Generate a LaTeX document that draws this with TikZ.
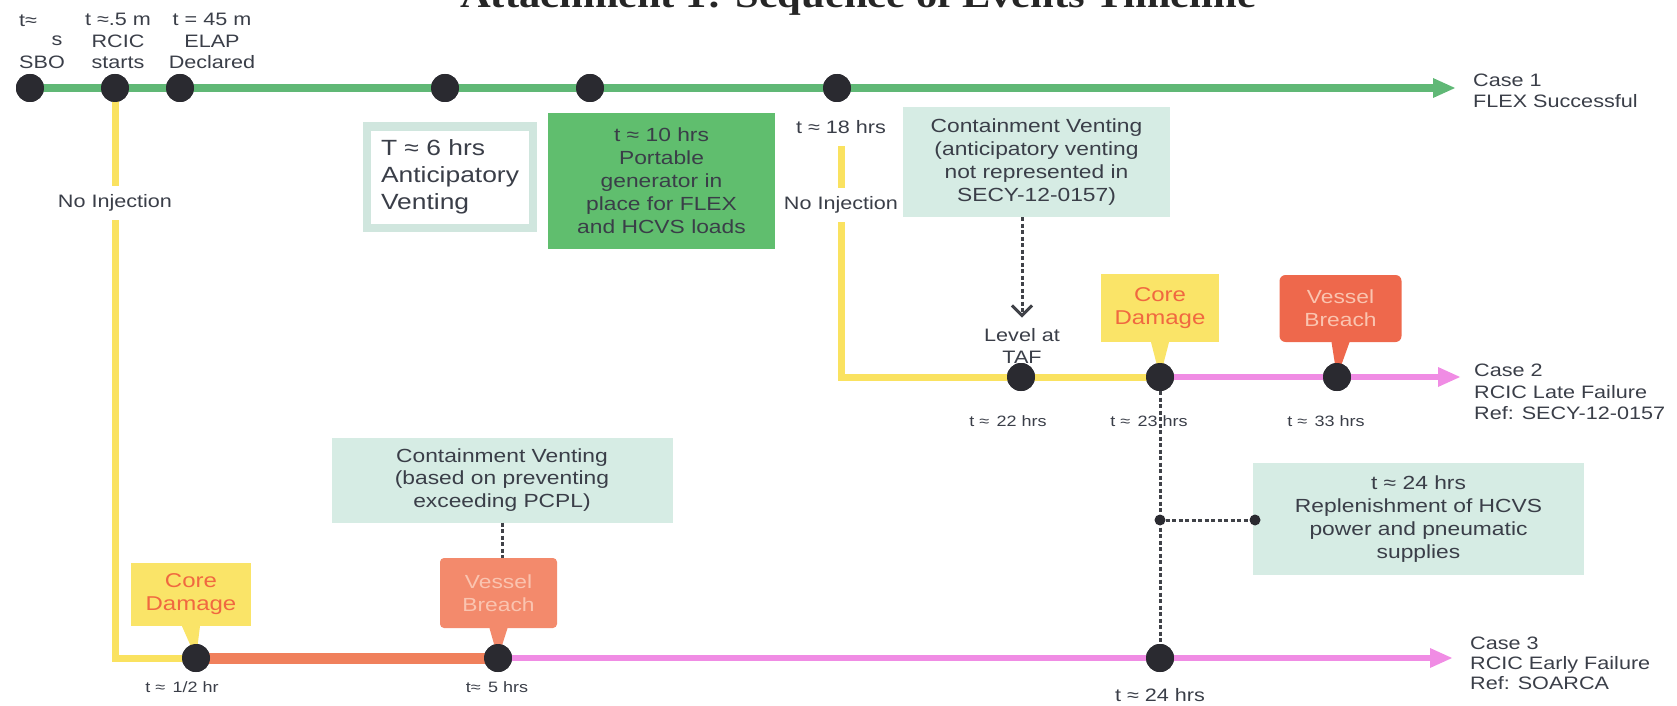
\documentclass[tikz,border=0pt]{standalone}
\usepackage{fontspec}
\setmainfont{Liberation Sans}[FakeStretch=1.2]
\newfontfamily\titlefont{Liberation Serif}[FakeStretch=1.15]
\usetikzlibrary{arrows.meta}
\definecolor{greenln}{RGB}{96,184,118}
\definecolor{greenbox}{RGB}{96,190,110}
\definecolor{pale}{RGB}{214,236,228}
\definecolor{avborder}{RGB}{208,230,222}
\definecolor{yel}{RGB}{250,226,96}
\definecolor{cdfill}{RGB}{250,228,104}
\definecolor{pinkln}{RGB}{240,140,228}
\definecolor{orangeln}{RGB}{240,128,92}
\definecolor{vbtwo}{RGB}{238,104,76}
\definecolor{vbthree}{RGB}{243,138,108}
\definecolor{cdtext}{RGB}{240,104,64}
\definecolor{vbtext}{RGB}{250,196,176}
\definecolor{txt}{RGB}{58,62,72}
\definecolor{dotc}{RGB}{42,42,48}
\definecolor{dashc}{RGB}{64,66,72}
\newcommand{\fsz}[2]{\fontsize{#1}{#2}\selectfont}
\begin{document}
\begin{tikzpicture}[x=1pt,y=-1pt,
  dotnode/.style={circle,fill=dotc,inner sep=0pt,minimum size=28pt},
  smalldot/.style={circle,fill=dotc,inner sep=0pt,minimum size=11pt},
  lbl/.style={text=txt,inner sep=1pt,font=\fsz{18}{21.5},align=center},
  caselbl/.style={text=txt,inner sep=0pt,font=\fsz{18}{21.5},align=left,anchor=west},
  tlbl/.style={text=txt,inner sep=1pt,font=\fsz{15}{18}},
  pbox/.style={fill=pale,inner sep=0pt,align=center,text=txt,font=\fsz{19}{23}},
  greenline/.style={draw=greenln,line width=7.5pt},
  yelline/.style={draw=yel,line width=7pt},
  pinkline/.style={draw=pinkln,line width=6pt},
  orangeline/.style={draw=orangeln,line width=11pt},
  dashln/.style={draw=dashc,line width=3pt,dash pattern=on 4pt off 2.5pt},
]
\useasboundingbox (0,0) rectangle (1677,706);
\clip (0,0) rectangle (1677,706);

% title (cut off at the top, as in the reference)
\node[anchor=base,text=black!85,font=\titlefont\bfseries\fsz{37}{40}] (title) at (858,8) {Attachment 1: Sequence of Events Timeline};

% ---------- positions ----------
\coordinate (c1end) at (1455,88);
\coordinate (c2end) at (1460,377);
\coordinate (c3end) at (1452,658);
\coordinate (y18) at (841,146);

\path (30,88) node[dotnode] (c1a) {}
      (115,88) node[dotnode] (c1b) {}
      (180,88) node[dotnode] (c1c) {}
      (445,88) node[dotnode] (c1d) {}
      (590,88) node[dotnode] (c1e) {}
      (837,88) node[dotnode] (c1f) {}
      (1021,377) node[dotnode] (c2a) {}
      (1160,377) node[dotnode] (c2b) {}
      (1337,377) node[dotnode] (c2c) {}
      (196,658) node[dotnode] (c3a) {}
      (498,658) node[dotnode] (c3b) {}
      (1160,658) node[dotnode] (c3c) {};

% ---------- timelines ----------
\draw[yelline] (c1b.center) |- (c3a.center);
\draw[yelline] (y18) |- (c2b.center);
\draw[greenline] (c1a.center) -- ([xshift=-20pt]c1end);
\path[fill=greenln] (c1end) -- ++(-22,-10) -- ++(0,20) -- cycle;
\draw[pinkline] (c2b.center) -- ([xshift=-20pt]c2end);
\path[fill=pinkln] (c2end) -- ++(-22,-10) -- ++(0,20) -- cycle;
\draw[orangeline] (c3a.center) -- (c3b.center);
\draw[pinkline] (c3b.center) -- ([xshift=-20pt]c3end);
\path[fill=pinkln] (c3end) -- ++(-22,-10) -- ++(0,20) -- cycle;

% ---------- boxes ----------
\node[draw=avborder,line width=8pt,fill=white,minimum width=166pt,minimum height=101pt,inner sep=0pt,
      align=left,text=txt,font=\fsz{22}{27}] (av) at (450,177) {T ≈ 6 hrs\\Anticipatory\\Venting};
\node[fill=greenbox,minimum width=227pt,minimum height=135pt,inner sep=0pt,align=center,
      text=txt,font=\fsz{19}{23}] (pg) at (661.5,181) {t ≈ 10 hrs\\Portable\\generator in\\place for FLEX\\and HCVS loads};
\node[pbox,minimum width=267pt,minimum height=110pt] (cv1) at (1036.5,162)
  {Containment Venting\\(anticipatory venting\\not represented in\\SECY-12-0157)};
\node[pbox,minimum width=341pt,minimum height=85pt,font=\fsz{19}{22.5}] (cv2) at (502,480)
  {Containment Venting\\(based on preventing\\exceeding PCPL)};
\node[pbox,minimum width=331pt,minimum height=112pt] (rep) at (1418.5,519)
  {t ≈ 24 hrs\\Replenishment of HCVS\\power and pneumatic\\supplies};

% callouts
\node[fill=cdfill,minimum width=118pt,minimum height=68pt,inner sep=0pt,align=center,
      text=cdtext,font=\fsz{20}{23}] (cd2) at (1160,308) {Core\\Damage};
\node[fill=vbtwo,rounded corners=6pt,minimum width=122pt,minimum height=67pt,inner sep=0pt,align=center,
      text=vbtext,font=\fsz{19}{23}] (vb2) at (1340.5,308.5) {Vessel\\Breach};
\node[fill=cdfill,minimum width=120pt,minimum height=63pt,inner sep=0pt,align=center,
      text=cdtext,font=\fsz{20}{23}] (cd3) at (191,594.5) {Core\\Damage};
\node[fill=vbthree,rounded corners=4pt,minimum width=117pt,minimum height=70pt,inner sep=0pt,align=center,
      text=vbtext,font=\fsz{19}{23}] (vb3) at (498.5,593) {Vessel\\Breach};
\fill[cdfill] ([xshift=-9pt]cd2.south) -- ([xshift=9pt]cd2.south) -- (c2b.center) -- cycle;
\fill[vbtwo] ([xshift=-9pt]vb2.south) -- ([xshift=9pt]vb2.south) -- (c2c.center) -- cycle;
\fill[cdfill] ([xshift=-9pt]cd3.south) -- ([xshift=9pt]cd3.south) -- (c3a.center) -- cycle;
\fill[vbthree] ([xshift=-9pt]vb3.south) -- ([xshift=9pt]vb3.south) -- (c3b.center) -- cycle;

% ---------- dashed connectors ----------
\node[lbl] (taf) at (1022,346) {Level at\\TAF};
\draw[dashln,-{Straight Barb[length=10pt,width=20pt]},shorten >=10pt] (taf.north |- cv1.south) -- (taf.north);
\draw[dashln] (c2b) -- (c3c);
\node[smalldot] (j) at (1160,520) {};
\node[smalldot] (jr) at (1255,520) {};
\draw[dashln] (j) -- (jr);
\draw[dashln] (cv2.south) -- (cv2.south |- vb3.north);

% dots on top of the lines
\foreach \n in {c1a,c1b,c1c,c1d,c1e,c1f,c2a,c2b,c2c,c3a,c3b,c3c}
  \fill[dotc] (\n.center) circle (14pt);

% ---------- labels ----------
\node[lbl] (sbo1) at (28,21) {t≈};
\node[lbl] (sbo2) at (57,41) {s};
\node[lbl] (sbo3) at (42,62) {SBO};
\node[lbl] (rcic) at (118,41) {t ≈.5 m\\RCIC\\starts};
\node[lbl] (elap) at (212,41) {t = 45 m\\ELAP\\Declared};
\node[lbl] (t18) at (841,127) {t ≈ 18 hrs};
\node[lbl,fill=white,inner ysep=9pt] (ni1) at (115,203) {No Injection};
\node[lbl,fill=white,inner ysep=9pt] (ni2) at (841,205) {No Injection};

\node[caselbl] (case1) at (1473,91) {Case 1\\FLEX Successful};
\node[caselbl] (case2) at (1474,392) {Case 2\\RCIC Late Failure\\Ref: SECY-12-0157};
\node[caselbl,font=\fsz{18}{20}] (case3) at (1470,663) {Case 3\\RCIC Early Failure\\Ref: SOARCA};

\node[tlbl] (t22) at (1008,421) {t ≈\enspace 22 hrs};
\node[tlbl] (t23) at (1149,421) {t ≈\enspace 23 hrs};
\node[tlbl] (t33) at (1326,421) {t ≈\enspace 33 hrs};
\node[tlbl] (thalf) at (182,687) {t ≈\enspace 1/2 hr};
\node[tlbl] (t5) at (497,687) {t≈\enspace 5 hrs};
\node[lbl] (t24) at (1160,695) {t ≈ 24 hrs};
\end{tikzpicture}
\end{document}
